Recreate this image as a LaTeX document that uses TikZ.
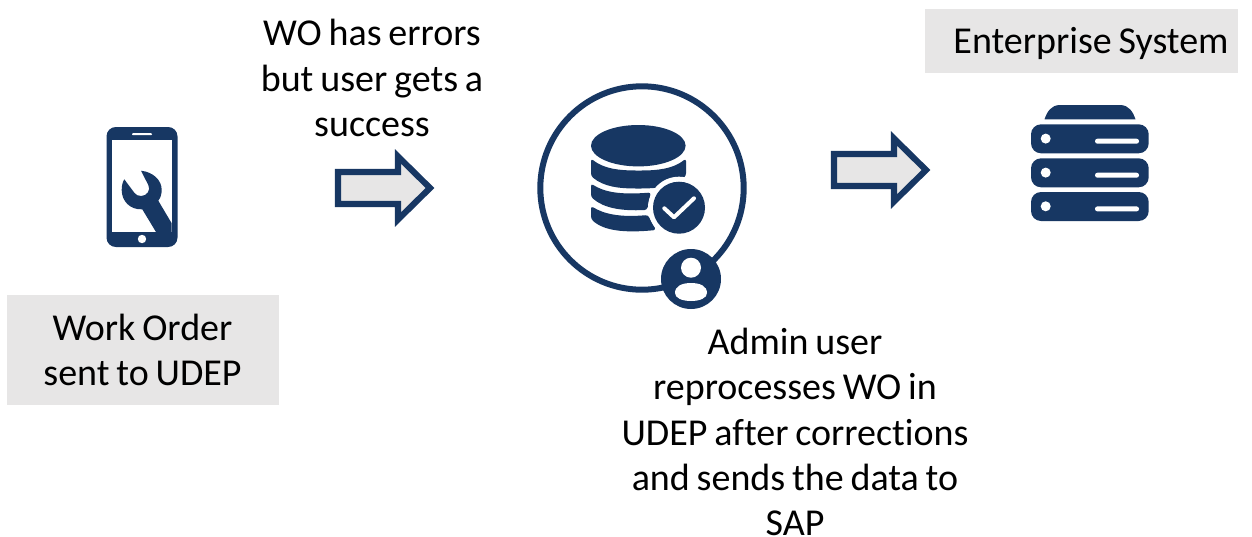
\documentclass[tikz,border=0pt]{standalone}
\usepackage{fontspec}
\setmainfont[Ligatures=NoCommon,WordSpace=0.8]{Carlito}
\definecolor{navy}{HTML}{173763}
\definecolor{pale}{HTML}{E7E6E6}
\tikzset{
  lbl/.style={align=center,inner sep=0pt,text=black,font=\fontsize{28.5}{33.9}\selectfont},
  greybox/.style={fill=pale,draw=none,inner sep=0pt},
  ink/.style={fill=navy,draw=none},
  hole/.style={fill=white,draw=none},
  blockarrow/.style={fill=pale,draw=navy,line width=4.6pt,miter limit=10,line join=miter}
}
\begin{document}
\begin{tikzpicture}[x=0.75pt,y=-0.75pt]
\useasboundingbox (0,0) rectangle (1252,536);
% grey label panels
\node[greybox,minimum width=204pt,minimum height=82.5pt] (wobox) at (143,350) {};
\node[greybox,minimum width=234.75pt,minimum height=48pt] (esbox) at (1081.5,41) {};
% phone
\fill[ink,rounded corners=7pt] (106.5,127) rectangle (177.5,247);
\fill[hole] (112,140) rectangle (172,232);
\fill[hole,rounded corners=0.7pt] (132,133.2) rectangle (152,135.2);
\fill[hole] (142,239) circle (4.2);
\fill[ink] (124.3,179.3) -- (134.3,192.7) .. controls (136,195) and (138,196) .. (141,196)
  .. controls (147,196) and (151,190) .. (148.3,185) -- (141,170.7)
  .. controls (153,172) and (161.7,180) .. (161.7,190) .. controls (161.7,194) and (160.5,198) .. (158.3,200.7)
  -- (171.7,223.3) -- (171.7,232) -- (156,232) -- (142.3,209.3)
  .. controls (130,210) and (121.7,201) .. (121.7,190) .. controls (121.7,186) and (122.5,182) .. (124.3,179.3) -- cycle;
% block arrows
\draw[blockarrow] (338,172) -- (398,172) -- (398,156.5) -- (430,188) -- (398,219.5) -- (398,204) -- (338,204) -- cycle;
\draw[blockarrow] (834,154) -- (894,154) -- (894,138.5) -- (926,170) -- (894,201.5) -- (894,186) -- (834,186) -- cycle;
% database ring
\draw[navy,line width=4.5pt] (642,188) circle (101.7);
% database
\fill[ink] (638.3,145.7) ellipse (47.3 and 20.7);
\fill[ink,rounded corners=2pt] (591,158.5) .. controls (604,169) and (620,170.5) .. (638.3,170.5) .. controls (657,170.5) and (673,169) .. (686,158.5)
  -- (686,176) .. controls (672,187) and (656,188.5) .. (638.3,188.5) .. controls (620,188.5) and (604,187) .. (591,176) -- cycle;
\fill[ink,rounded corners=2pt] (591,183.5) .. controls (604,192) and (620,195) .. (651,192.5)
  -- (647,210) .. controls (620,211) and (604,208) .. (591,197) -- cycle;
\fill[ink,rounded corners=2pt] (591,206) .. controls (604,214) and (620,217.5) .. (648,215)
  -- (656,230) .. controls (625,233) and (604,231) .. (591,219) -- cycle;
% check badge
\fill[hole] (679,207.7) circle (31);
\fill[ink] (679,207.7) circle (26);
\draw[white,line width=3pt,line cap=round,line join=round] (664.3,208.3) -- (674,217.3) -- (694,198.3);
% person badge
\fill[ink] (691,279) circle (30);
\fill[hole] (691,267.7) circle (10);
\fill[hole] (675,293) .. controls (675,286) and (682,283) .. (691,283) .. controls (700,283) and (707,286) .. (707,293)
  .. controls (707,298) and (700,301) .. (691,301) .. controls (682,301) and (675,298) .. (675,293) -- cycle;
% server
\fill[ink] (1044.5,119.3) .. controls (1047,112) and (1051,105) .. (1060,105) -- (1120,105) .. controls (1129,105) and (1133,112) .. (1135.5,119.3) -- cycle;
\foreach \t in {124.3,158.3,192}{
  \fill[ink,rounded corners=7.5pt] (1031,\t) rectangle (1148.7,\t+29);
  \fill[hole] (1045.7,\t+14.3) circle (5);
  \fill[hole,rounded corners=1.8pt] (1095,\t+14.4) rectangle (1139,\t+19.4);
}
% labels
\node[lbl] (wo) at (142.5,350) {Work Order\\sent to UDEP};
\node[lbl] (es) at (1091,43) {Enterprise System};
\node[lbl] (err) at (372,78) {WO has errors\\but user gets a\\success};
\node[lbl] (adm) at (795,432) {Admin user\\reprocesses WO in\\UDEP after corrections\\and sends the data to\\SAP};
\end{tikzpicture}
\end{document}
